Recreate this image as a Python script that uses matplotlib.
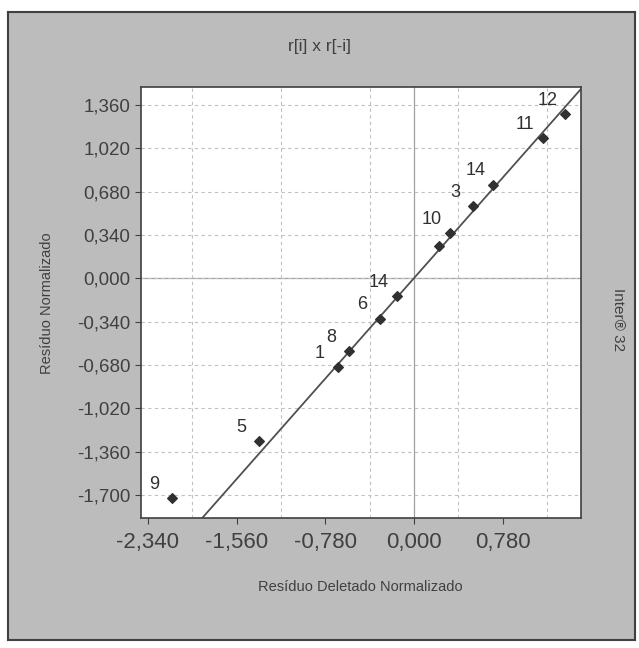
import matplotlib
matplotlib.use("Agg")
import matplotlib.pyplot as plt
import numpy as np
from matplotlib.ticker import FuncFormatter, MultipleLocator

# Data
res_deleted = [1.333, 1.135, 0.699, 0.523, 0.316, 0.222, -0.149, -0.295, -0.567, -0.669, -1.362, -2.125]
res_norm    = [1.289, 1.100, 0.735, 0.565, 0.355, 0.251, -0.141, -0.316, -0.573, -0.696, -1.278, -1.723]
point_labels = ["12", "11", "14", "3", "10", "", "14", "6", "8", "1", "5", "9"]
fit_slope = 1.01
x_ticks = [-2.34, -1.56, -0.78, 0.0, 0.78]
y_ticks = [1.36, 1.02, 0.68, 0.34, 0.0, -0.34, -0.68, -1.02, -1.36, -1.70]

plt.rcParams['font.family'] = ['Liberation Sans', 'DejaVu Sans']

fig = plt.figure(figsize=(6.39, 6.48), dpi=100)
fig.patch.set_facecolor('white')
bg = '#bcbcbc'

bax = fig.add_axes([8/639, 1-640/648, (635-8)/639, (640-12)/648], zorder=-1)
bax.set_facecolor(bg)
bax.set_xticks([])
bax.set_yticks([])
for s in bax.spines.values():
    s.set_color('#404040')
    s.set_linewidth(1.5)

ax = fig.add_axes([141/639, 1-518/648, (581-141)/639, (518-87)/648], zorder=1)
ax.set_facecolor('white')
ax.set_xlim(-2.40, 1.47)
ax.set_ylim(-1.88, 1.50)

ax.xaxis.set_major_locator(plt.FixedLocator(x_ticks))
ax.xaxis.set_minor_locator(MultipleLocator(0.39))
ax.yaxis.set_major_locator(plt.FixedLocator(y_ticks))

fmt = FuncFormatter(lambda v, p: f"{v:.3f}".replace('.', ',').replace('-0,000', '0,000'))
ax.xaxis.set_major_formatter(fmt)
ax.yaxis.set_major_formatter(fmt)

ax.grid(True, which='minor', axis='x', color='#c0c0c0', linestyle=(0, (3, 3)), linewidth=0.8)
ax.grid(True, which='major', axis='y', color='#c0c0c0', linestyle=(0, (3, 3)), linewidth=0.8)
ax.axhline(0, color='#a0a0a0', linewidth=0.9, zorder=1)
ax.axvline(0, color='#a0a0a0', linewidth=0.9, zorder=1)

xs = np.array(ax.get_xlim())
ax.plot(xs, fit_slope * xs, color='#505050', linewidth=1.3, zorder=2)
ax.scatter(res_deleted, res_norm, marker='D', s=24, color='#303030', zorder=3)
for x, y, t in zip(res_deleted, res_norm, point_labels):
    if t:
        ax.annotate(t, (x, y), xytext=(-13, 10), textcoords='offset points',
                    ha='center', va='center', fontsize=13, color='#303030')

ax.tick_params(axis='x', which='major', labelsize=16, length=4, color='#404040', labelcolor='#404040', pad=6)
ax.tick_params(axis='x', which='minor', length=0)
ax.tick_params(axis='y', labelsize=13.5, length=4, color='#404040', labelcolor='#404040')
for s in ax.spines.values():
    s.set_color('#404040')
    s.set_linewidth(1.2)

fig.text(320/639, 1-47/648, "r[i] x r[-i]", ha='center', va='center', fontsize=12.5, color='#404040')
fig.text(47/639, 1-303/648, "Resíduo Normalizado", rotation=90, ha='center', va='center',
         fontsize=10.5, color='#404040')
fig.text(360/639, 1-587/648, "Resíduo Deletado Normalizado", ha='center', va='center',
         fontsize=10.5, color='#404040')
fig.text(618/639, 1-320/648, "Inter® 32", rotation=-90, ha='center', va='center',
         fontsize=11, color='#404040')

fig.savefig("out.png", dpi=100, facecolor='white')
